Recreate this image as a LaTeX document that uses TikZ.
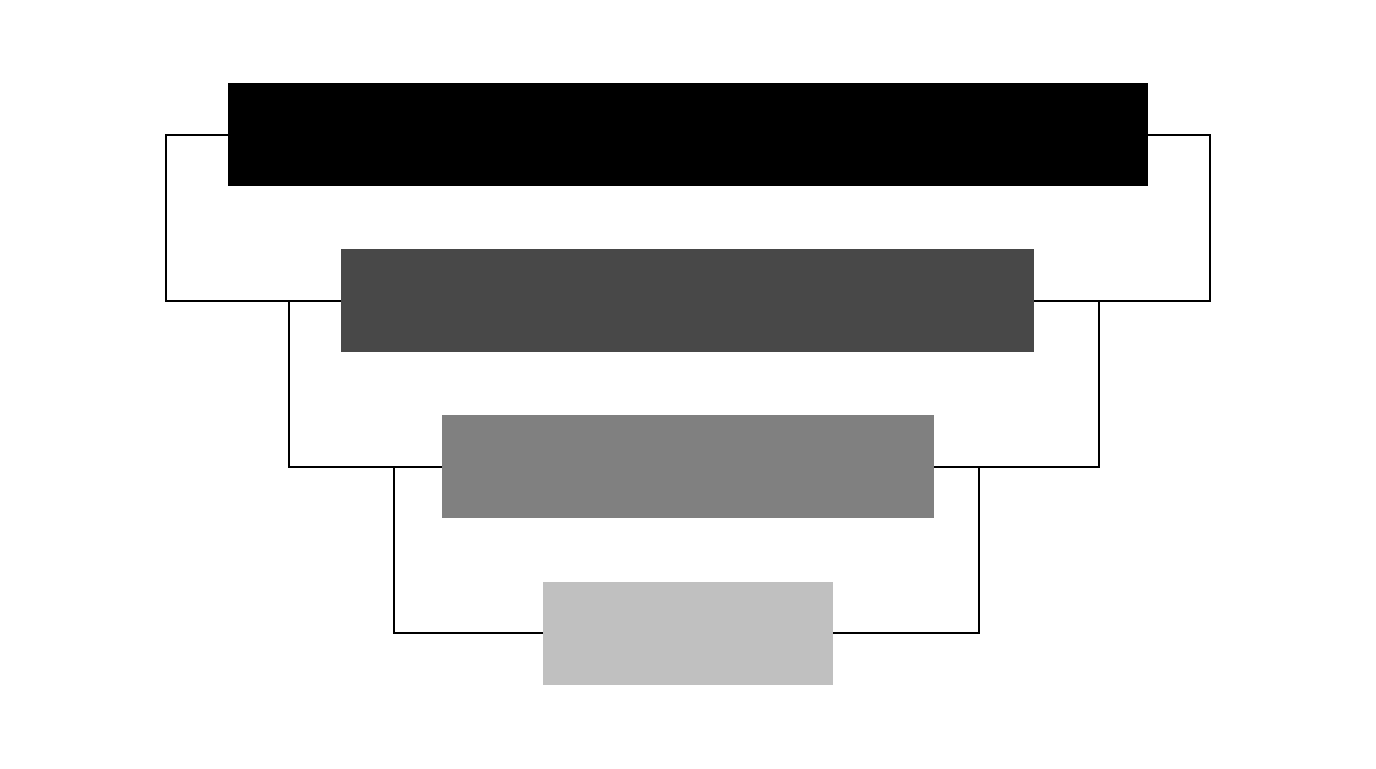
\documentclass[tikz,border=0pt]{standalone}
\usepackage{tikz}
\usetikzlibrary{positioning}
\usepackage{xcolor}
\definecolor{bartwo}{HTML}{484848}
\definecolor{barthree}{HTML}{808080}
\definecolor{barfour}{HTML}{C0C0C0}
\begin{document}
\begin{tikzpicture}[x=0.5pt, y=-0.5pt,
    bar/.style={rectangle, inner sep=0pt, minimum height=51.5pt},
    link/.style={draw=black, line width=1pt}]
                \useasboundingbox (0,0) rectangle (1376,768);
                \fill[white] (0,0) rectangle (1376,768);
                \node[bar, fill=black, minimum width=460pt](b1) at (688,134.5){};
                \node[bar, fill=bartwo, minimum width=346.5pt](b2) at (687.5,300.5){};
                \node[bar, fill=barthree, minimum width=246pt](b3) at (688,466.5){};
                \node[bar, fill=barfour, minimum width=145pt](b4) at (688,633){};
                \path[link] (b1.west) -- ++(-62,0) |- (b2.west);
                \path[link] (b1.east) -- ++(62,0) |- (b2.east);
                \path[link] ([xshift=-26pt]b2.west) |- (b3.west);
                \path[link] ([xshift=32.5pt]b2.east) |- (b3.east);
                \path[link] ([xshift=-24pt]b3.west) |- (b4.west);
                \path[link] ([xshift=22.5pt]b3.east) |- (b4.east);
                \end{tikzpicture}
\end{document}
